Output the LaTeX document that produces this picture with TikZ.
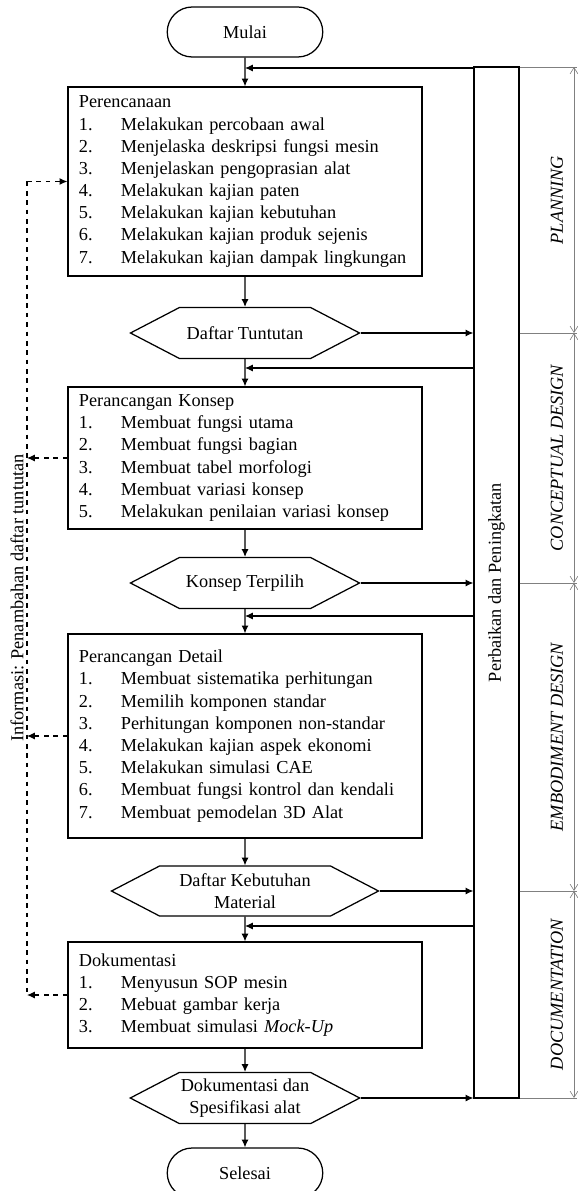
\documentclass[tikz,border=0pt]{standalone}
\usepackage{fontspec}
\setmainfont{Liberation Serif}
\usetikzlibrary{arrows.meta,shapes.misc,shapes.symbols}
\newcommand{\itm}[2]{\makebox[26.9pt][l]{#1.}#2}
\tikzset{
  base/.style={draw,line width=0.8pt,font=\fontsize{11.7}{14.2}\selectfont},
  term/.style={base,rounded rectangle,minimum width=106.2pt,minimum height=32pt},
  proc/.style={base,rectangle,text width=212.6pt,align=left,inner xsep=7pt},
  hexa/.style={base,signal,signal to=east and west,signal pointer angle=55,
    minimum width=146.6pt,minimum height=32.6pt,align=center,inner sep=1pt},
  flow/.style={line width=0.7pt,-{Latex[length=5pt,width=4.5pt]}},
  info/.style={flow,dashed},
  dim/.style={gray,line width=0.4pt},
  phase/.style={rotate=90,font=\fontsize{11.7}{14.2}\selectfont\itshape},
}
\begin{document}
\begin{tikzpicture}[x=0.64pt,y=-0.64pt]
\useasboundingbox (0,0) rectangle (577,1191);
% alur utama
\node[term] (mulai) at (245,32) {Mulai};
\node[proc,minimum height=121pt] (plan) at (245,181.5) {Perencanaan\\
  \itm{1}{Melakukan percobaan awal}\\
  \itm{2}{Menjelaska deskripsi fungsi mesin}\\
  \itm{3}{Menjelaskan pengoprasian alat}\\
  \itm{4}{Melakukan kajian paten}\\
  \itm{5}{Melakukan kajian kebutuhan}\\
  \itm{6}{Melakukan kajian produk sejenis}\\
  \itm{7}{Melakukan kajian dampak lingkungan}};
\node[hexa] (tuntutan) at (245,333) {Daftar Tuntutan};
\node[proc,minimum height=90.9pt] (konsep) at (245,458) {Perancangan Konsep\\
  \itm{1}{Membuat fungsi utama}\\
  \itm{2}{Membuat fungsi bagian}\\
  \itm{3}{Membuat tabel morfologi}\\
  \itm{4}{Membuat variasi konsep}\\
  \itm{5}{Melakukan penilaian variasi konsep}};
\node[hexa] (terpilih) at (245,583) {Konsep Terpilih};
\node[proc,minimum height=130.6pt] (detail) at (245,736) {Perancangan Detail\\
  \itm{1}{Membuat sistematika perhitungan}\\
  \itm{2}{Memilih komponen standar}\\
  \itm{3}{Perhitungan komponen non-standar}\\
  \itm{4}{Melakukan kajian aspek ekonomi}\\
  \itm{5}{Melakukan simulasi CAE}\\
  \itm{6}{Membuat fungsi kontrol dan kendali}\\
  \itm{7}{Membuat pemodelan 3D Alat}};
\node[hexa,minimum width=170.9pt,minimum height=32pt] (material) at (245,891) {Daftar Kebutuhan\\Material};
\node[proc,minimum height=67.8pt] (dok) at (245,995) {Dokumentasi\\
  \itm{1}{Menyusun SOP mesin}\\
  \itm{2}{Mebuat gambar kerja}\\
  \itm{3}{Membuat simulasi \textit{Mock-Up}}};
\node[hexa] (spek) at (245,1098) {Dokumentasi dan\\Spesifikasi alat};
\node[term] (selesai) at (245,1173) {Selesai};

\draw[flow] (mulai) -- (plan);
\draw[flow] (plan) -- (tuntutan);
\draw[flow] (tuntutan) -- (konsep);
\draw[flow] (konsep) -- (terpilih);
\draw[flow] (terpilih) -- (detail);
\draw[flow] (detail) -- (material);
\draw[flow] (material) -- (dok);
\draw[flow] (dok) -- (spek);
\draw[flow] (spek) -- (selesai);

% perbaikan dan peningkatan
\node[base,minimum width=28.8pt,minimum height=659.8pt] (bar) at (496.5,582.5) {};
\node[rotate=90,font=\fontsize{11.7}{14.2}\selectfont] (barlabel) at (bar.center) {Perbaikan dan Peningkatan};
\coordinate (fb1) at (245,68);
\coordinate (fb2) at (245,368);
\coordinate (fb3) at (245,616);
\coordinate (fb4) at (245,926);
\foreach \f in {fb1,fb2,fb3,fb4}
  \draw[flow] (bar.west |- \f) -- (\f);
\foreach \h in {tuntutan,terpilih,material,spek}
  \draw[flow] (\h.east) -- (\h.east -| bar.west);

% informasi
\coordinate (ia) at (27,0);
\draw[info] (ia |- plan.west) -- (plan.west);
\draw[dashed,line width=0.7pt] (ia |- plan.west) -- (ia |- dok.west);
\foreach \b in {konsep,detail,dok}
  \draw[info] (\b.west) -- (ia |- \b.west);
\node[rotate=90,font=\fontsize{11.7}{14.2}\selectfont] (infolabel) at (17,598) {Informasi: Penambahan daftar tuntutan};

% tahapan
\foreach \y in {67,333,583,891,1098}
  \draw[dim] (bar.east |- 0,\y) -- (577,\y);
\foreach \a/\b in {67/333,333/583,583/891,891/1098}
  \draw[dim,{Straight Barb[length=4pt,width=5pt]}-{Straight Barb[length=4pt,width=5pt]}] (574,\a) -- (574,\b);
\node[phase] (lplan) at (557,200) {PLANNING};
\node[phase] (lkonsep) at (557,458) {CONCEPTUAL DESIGN};
\node[phase] (lembod) at (557,737) {EMBODIMENT DESIGN};
\node[phase] (ldok) at (557,994.5) {DOCUMENTATION};
\end{tikzpicture}
\end{document}
